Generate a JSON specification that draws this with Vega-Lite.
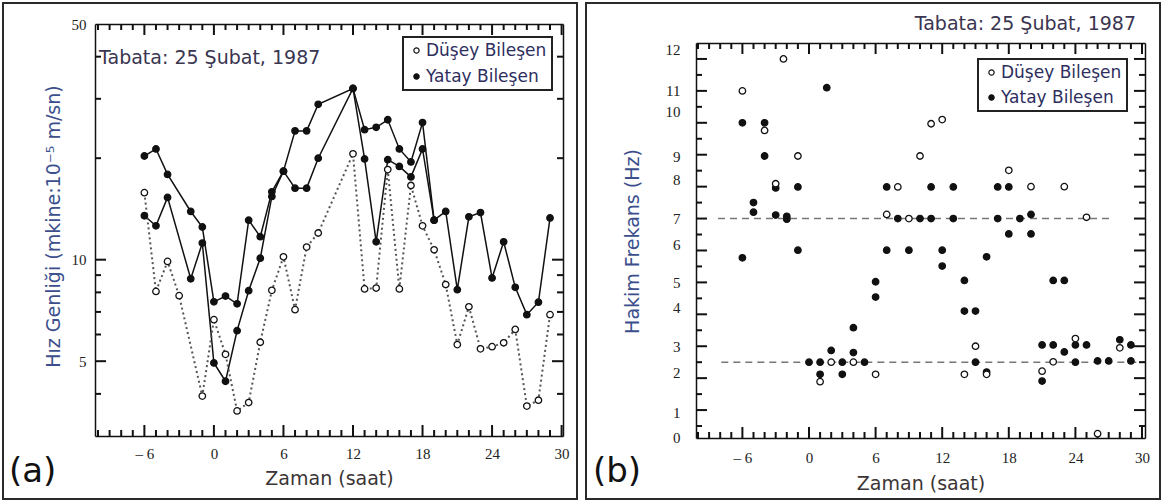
{
  "$schema": "https://vega.github.io/schema/vega-lite/v6.json",
  "background": "white",
  "padding": {"left": 2, "top": 2, "right": 0, "bottom": 0},
  "spacing": 7,
  "config": {
    "view": {"stroke": "#2a2a2a", "strokeWidth": 2},
    "axis": {"grid": false, "domainColor": "#111", "domainWidth": 1.5, "labelFont": "Liberation Serif", "labelFontSize": 15, "labelColor": "#222", "labelFlush": false, "labelOverlap": false, "titleFont": "DejaVu Sans", "titleFontSize": 19, "titleFontWeight": "normal"},
    "legend": {"strokeWidth": 2}
  },
  "resolve": {"scale": {"fill": "independent"}, "legend": {"fill": "independent"}},
  "datasets": {
    "a": [
      {"s": "D", "h": -6, "v": 15.8}, {"s": "D", "h": -5, "v": 8.05}, {"s": "D", "h": -4, "v": 9.88}, {"s": "D", "h": -3, "v": 7.82},
      {"s": "D", "h": -1, "v": 3.94}, {"s": "D", "h": 0, "v": 6.64}, {"s": "D", "h": 1, "v": 5.24}, {"s": "D", "h": 2, "v": 3.56},
      {"s": "D", "h": 3, "v": 3.77}, {"s": "D", "h": 4, "v": 5.69}, {"s": "D", "h": 5, "v": 8.11}, {"s": "D", "h": 6, "v": 10.2},
      {"s": "D", "h": 7, "v": 7.11}, {"s": "D", "h": 8, "v": 10.9}, {"s": "D", "h": 9, "v": 12.0}, {"s": "D", "h": 12, "v": 20.6},
      {"s": "D", "h": 13, "v": 8.19}, {"s": "D", "h": 14, "v": 8.24}, {"s": "D", "h": 15, "v": 18.5}, {"s": "D", "h": 16, "v": 8.19},
      {"s": "D", "h": 17, "v": 16.6}, {"s": "D", "h": 18, "v": 12.6}, {"s": "D", "h": 19, "v": 10.7}, {"s": "D", "h": 20, "v": 8.44},
      {"s": "D", "h": 21, "v": 5.6}, {"s": "D", "h": 22, "v": 7.25}, {"s": "D", "h": 23, "v": 5.44}, {"s": "D", "h": 24, "v": 5.52},
      {"s": "D", "h": 25, "v": 5.67}, {"s": "D", "h": 26, "v": 6.21}, {"s": "D", "h": 27, "v": 3.68}, {"s": "D", "h": 28, "v": 3.83},
      {"s": "D", "h": 29, "v": 6.87},
      {"s": "Y1", "h": -6, "v": 20.3}, {"s": "Y1", "h": -5, "v": 21.3}, {"s": "Y1", "h": -4, "v": 17.9}, {"s": "Y1", "h": -2, "v": 13.9},
      {"s": "Y1", "h": -1, "v": 12.5}, {"s": "Y1", "h": 0, "v": 7.5}, {"s": "Y1", "h": 1, "v": 7.8}, {"s": "Y1", "h": 2, "v": 7.4},
      {"s": "Y1", "h": 3, "v": 13.1}, {"s": "Y1", "h": 4, "v": 11.7}, {"s": "Y1", "h": 5, "v": 15.9}, {"s": "Y1", "h": 6, "v": 18.3},
      {"s": "Y1", "h": 7, "v": 24.1}, {"s": "Y1", "h": 8, "v": 24.1}, {"s": "Y1", "h": 9, "v": 28.9}, {"s": "Y1", "h": 12, "v": 32.2},
      {"s": "Y1", "h": 13, "v": 24.3}, {"s": "Y1", "h": 14, "v": 24.7}, {"s": "Y1", "h": 15, "v": 26.0}, {"s": "Y1", "h": 16, "v": 21.3},
      {"s": "Y1", "h": 17, "v": 19.5}, {"s": "Y1", "h": 18, "v": 25.5}, {"s": "Y1", "h": 19, "v": 13.1}, {"s": "Y1", "h": 20, "v": 13.9},
      {"s": "Y1", "h": 21, "v": 8.15}, {"s": "Y1", "h": 22, "v": 13.4}, {"s": "Y1", "h": 23, "v": 13.8}, {"s": "Y1", "h": 24, "v": 8.83},
      {"s": "Y1", "h": 25, "v": 11.3}, {"s": "Y1", "h": 26, "v": 8.28}, {"s": "Y1", "h": 27, "v": 6.87}, {"s": "Y1", "h": 28, "v": 7.48},
      {"s": "Y1", "h": 29, "v": 13.3},
      {"s": "Y2", "h": -6, "v": 13.5}, {"s": "Y2", "h": -5, "v": 12.6}, {"s": "Y2", "h": -4, "v": 15.3}, {"s": "Y2", "h": -2, "v": 8.78},
      {"s": "Y2", "h": -1, "v": 11.2}, {"s": "Y2", "h": 0, "v": 4.94}, {"s": "Y2", "h": 1, "v": 4.36}, {"s": "Y2", "h": 2, "v": 6.16},
      {"s": "Y2", "h": 3, "v": 8.09}, {"s": "Y2", "h": 4, "v": 10.1}, {"s": "Y2", "h": 5, "v": 15.4}, {"s": "Y2", "h": 6, "v": 18.3},
      {"s": "Y2", "h": 7, "v": 16.3}, {"s": "Y2", "h": 8, "v": 16.3}, {"s": "Y2", "h": 9, "v": 20.0}, {"s": "Y2", "h": 12, "v": 32.2},
      {"s": "Y2", "h": 13, "v": 19.9}, {"s": "Y2", "h": 14, "v": 11.3}, {"s": "Y2", "h": 15, "v": 19.8}, {"s": "Y2", "h": 16, "v": 18.9},
      {"s": "Y2", "h": 17, "v": 17.6}, {"s": "Y2", "h": 18, "v": 21.3}, {"s": "Y2", "h": 19, "v": 13.1}
    ],
    "b": [
      {"t": "Y", "h": -6, "f": 10.0}, {"t": "Y", "h": -6, "f": 5.77}, {"t": "Y", "h": -5, "f": 7.5}, {"t": "Y", "h": -5, "f": 7.2},
      {"t": "Y", "h": -4, "f": 10.0}, {"t": "Y", "h": -4, "f": 8.96}, {"t": "Y", "h": -3, "f": 7.96}, {"t": "Y", "h": -3, "f": 7.11},
      {"t": "Y", "h": -2, "f": 7.07}, {"t": "Y", "h": -2, "f": 6.98}, {"t": "Y", "h": -1, "f": 7.99}, {"t": "Y", "h": -1, "f": 6.01},
      {"t": "Y", "h": 0, "f": 2.5}, {"t": "Y", "h": 1, "f": 2.5}, {"t": "Y", "h": 1, "f": 2.12}, {"t": "Y", "h": 1.6, "f": 11.1},
      {"t": "Y", "h": 2, "f": 2.87}, {"t": "Y", "h": 3, "f": 2.5}, {"t": "Y", "h": 3, "f": 2.12}, {"t": "Y", "h": 4, "f": 3.58},
      {"t": "Y", "h": 4, "f": 2.8}, {"t": "Y", "h": 5, "f": 2.5}, {"t": "Y", "h": 6, "f": 5.02}, {"t": "Y", "h": 6, "f": 4.54},
      {"t": "Y", "h": 7, "f": 7.99}, {"t": "Y", "h": 7, "f": 6.01}, {"t": "Y", "h": 8, "f": 7.0}, {"t": "Y", "h": 9, "f": 6.01},
      {"t": "Y", "h": 10, "f": 7.0}, {"t": "Y", "h": 11, "f": 7.99}, {"t": "Y", "h": 11, "f": 7.0}, {"t": "Y", "h": 12, "f": 6.01},
      {"t": "Y", "h": 12, "f": 5.51}, {"t": "Y", "h": 13, "f": 7.99}, {"t": "Y", "h": 13, "f": 7.0}, {"t": "Y", "h": 14, "f": 5.06},
      {"t": "Y", "h": 14, "f": 4.1}, {"t": "Y", "h": 15, "f": 4.1}, {"t": "Y", "h": 15, "f": 2.5}, {"t": "Y", "h": 16, "f": 5.8},
      {"t": "Y", "h": 16, "f": 2.19}, {"t": "Y", "h": 17, "f": 7.99}, {"t": "Y", "h": 17, "f": 7.0}, {"t": "Y", "h": 18, "f": 7.99},
      {"t": "Y", "h": 18, "f": 6.52}, {"t": "Y", "h": 19, "f": 7.0}, {"t": "Y", "h": 20, "f": 7.13}, {"t": "Y", "h": 20, "f": 6.52},
      {"t": "Y", "h": 21, "f": 3.04}, {"t": "Y", "h": 21, "f": 1.91}, {"t": "Y", "h": 22, "f": 5.06}, {"t": "Y", "h": 22, "f": 3.04},
      {"t": "Y", "h": 23, "f": 5.06}, {"t": "Y", "h": 23, "f": 2.82}, {"t": "Y", "h": 24, "f": 3.04}, {"t": "Y", "h": 24, "f": 2.5},
      {"t": "Y", "h": 25, "f": 3.04}, {"t": "Y", "h": 26, "f": 2.54}, {"t": "Y", "h": 27, "f": 2.54}, {"t": "Y", "h": 28, "f": 3.2},
      {"t": "Y", "h": 29, "f": 3.04}, {"t": "Y", "h": 29, "f": 2.54},
      {"t": "D", "h": -6, "f": 11.0}, {"t": "D", "h": -4, "f": 9.76}, {"t": "D", "h": -3, "f": 8.09}, {"t": "D", "h": -2.3, "f": 12.0},
      {"t": "D", "h": -1, "f": 8.96}, {"t": "D", "h": 1, "f": 1.89}, {"t": "D", "h": 2, "f": 2.5}, {"t": "D", "h": 4, "f": 2.5},
      {"t": "D", "h": 6, "f": 2.12}, {"t": "D", "h": 7, "f": 7.13}, {"t": "D", "h": 8, "f": 7.99}, {"t": "D", "h": 9, "f": 7.0},
      {"t": "D", "h": 10, "f": 8.96}, {"t": "D", "h": 11, "f": 9.97}, {"t": "D", "h": 12, "f": 10.1}, {"t": "D", "h": 14, "f": 2.12},
      {"t": "D", "h": 15, "f": 3.0}, {"t": "D", "h": 16, "f": 2.12}, {"t": "D", "h": 18, "f": 8.51}, {"t": "D", "h": 20, "f": 8.0},
      {"t": "D", "h": 21, "f": 2.22}, {"t": "D", "h": 22, "f": 2.51}, {"t": "D", "h": 23, "f": 8.0}, {"t": "D", "h": 24, "f": 3.24},
      {"t": "D", "h": 25, "f": 7.04}, {"t": "D", "h": 26, "f": 0.26}, {"t": "D", "h": 28, "f": 2.95}
    ],
    "bref": [
      {"k": "u", "x1": -8.2, "x2": 27.3, "y": 7},
      {"k": "l", "x1": -7.9, "x2": 30.2, "y": 2.5}
    ],
    "xt": [
      {"v": -10, "m": 0}, {"v": -9, "m": 0}, {"v": -8, "m": 0}, {"v": -7, "m": 0}, {"v": -6, "m": 1}, {"v": -5, "m": 0}, {"v": -4, "m": 0},
      {"v": -3, "m": 0}, {"v": -2, "m": 0}, {"v": -1, "m": 0}, {"v": 0, "m": 1}, {"v": 1, "m": 0}, {"v": 2, "m": 0}, {"v": 3, "m": 0},
      {"v": 4, "m": 0}, {"v": 5, "m": 0}, {"v": 6, "m": 1}, {"v": 7, "m": 0}, {"v": 8, "m": 0}, {"v": 9, "m": 0}, {"v": 10, "m": 0},
      {"v": 11, "m": 0}, {"v": 12, "m": 1}, {"v": 13, "m": 0}, {"v": 14, "m": 0}, {"v": 15, "m": 0}, {"v": 16, "m": 0}, {"v": 17, "m": 0},
      {"v": 18, "m": 1}, {"v": 19, "m": 0}, {"v": 20, "m": 0}, {"v": 21, "m": 0}, {"v": 22, "m": 0}, {"v": 23, "m": 0}, {"v": 24, "m": 1},
      {"v": 25, "m": 0}, {"v": 26, "m": 0}, {"v": 27, "m": 0}, {"v": 28, "m": 0}, {"v": 29, "m": 0}, {"v": 30, "m": 1}
    ],
    "yta": [
      {"v": 4, "m": 0}, {"v": 5, "m": 1}, {"v": 6, "m": 0}, {"v": 7, "m": 0}, {"v": 8, "m": 0}, {"v": 9, "m": 0}, {"v": 10, "m": 1},
      {"v": 20, "m": 0}, {"v": 30, "m": 0}, {"v": 40, "m": 0}
    ],
    "ytb": [
      {"v": 0.5, "m": 0}, {"v": 1, "m": 1}, {"v": 1.5, "m": 0}, {"v": 2, "m": 1}, {"v": 2.5, "m": 0}, {"v": 3, "m": 1}, {"v": 3.5, "m": 0},
      {"v": 4, "m": 1}, {"v": 4.5, "m": 0}, {"v": 5, "m": 1}, {"v": 5.5, "m": 0}, {"v": 6, "m": 1}, {"v": 6.5, "m": 0}, {"v": 7, "m": 1},
      {"v": 7.5, "m": 0}, {"v": 8, "m": 1}, {"v": 8.5, "m": 0}, {"v": 9, "m": 1}, {"v": 9.5, "m": 0}, {"v": 10, "m": 1}, {"v": 10.5, "m": 0},
      {"v": 11, "m": 1}, {"v": 11.5, "m": 0}, {"v": 12, "m": 1}
    ]
  },
  "hconcat": [
    {
      "width": 574,
      "height": 496,
      "resolve": {"axis": {"x": "independent", "y": "independent"}},
      "layer": [
        {
          "data": {"name": "a"},
          "transform": [{"filter": "datum.s !== 'D'"}],
          "mark": {"type": "line", "color": "#111", "strokeWidth": 1.5},
          "encoding": {
            "x": {"field": "h", "type": "quantitative",
              "scale": {"domain": [-10.26, 30.12], "range": [92, 560], "nice": false, "zero": false},
              "axis": {"orient": "bottom", "offset": -63, "values": [-6, 0, 6, 12, 18, 24, 30], "ticks": false,
                "labelExpr": "datum.value < 0 ? '– ' + abs(datum.value) : '' + datum.value",
                "labelPadding": 10,
                "title": "Zaman (saat)", "titleColor": "#3b3535", "titleY": 42, "titleBaseline": "middle"}},
            "y": {"field": "v", "type": "quantitative",
              "scale": {"type": "log", "domain": [3, 50], "range": [433, 21], "nice": false},
              "axis": {"orient": "left", "offset": -92, "values": [5, 10, 50], "ticks": false,
                "labelExpr": "'' + datum.value", "labelPadding": 9,
                "title": "Hız Genliği (mkine:10⁻⁵ m/sn)", "titleColor": "#3c4f8c", "titleX": -42, "titleY": 223, "titleBaseline": "middle"}},
            "detail": {"field": "s"}
          }
        },
        {
          "data": {"name": "a"},
          "transform": [{"filter": "datum.s === 'D'"}],
          "mark": {"type": "line", "color": "#555", "strokeWidth": 2, "strokeDash": [2, 3]},
          "encoding": {
            "x": {"field": "h", "type": "quantitative",
              "scale": {"domain": [-10.26, 30.12], "range": [92, 560], "nice": false, "zero": false},
              "axis": {"orient": "bottom", "offset": -475, "ticks": false, "labels": false, "domain": true, "title": null}},
            "y": {"field": "v", "type": "quantitative",
              "scale": {"type": "log", "domain": [3, 50], "range": [433, 21], "nice": false},
              "axis": {"orient": "left", "offset": -560, "ticks": false, "labels": false, "domain": true, "title": null}}
          }
        },
        {
          "data": {"name": "xt"},
          "transform": [{"filter": "datum.m === 1"}],
          "mark": {"type": "rule", "color": "#111", "strokeWidth": 2},
          "encoding": {
            "x": {"field": "v", "type": "quantitative", "scale": {"domain": [-10.26, 30.12], "range": [92, 560], "nice": false, "zero": false}, "axis": null},
            "y": {"datum": 3, "type": "quantitative", "scale": {"type": "log", "domain": [3, 50], "range": [433, 21], "nice": false}, "axis": null},
            "y2": {"datum": 3.234}
          }
        },
        {
          "data": {"name": "xt"},
          "transform": [{"filter": "datum.m === 0"}],
          "mark": {"type": "rule", "color": "#111", "strokeWidth": 2},
          "encoding": {
            "x": {"field": "v", "type": "quantitative", "scale": {"domain": [-10.26, 30.12], "range": [92, 560], "nice": false, "zero": false}, "axis": null},
            "y": {"datum": 3, "type": "quantitative", "scale": {"type": "log", "domain": [3, 50], "range": [433, 21], "nice": false}, "axis": null},
            "y2": {"datum": 3.125}
          }
        },
        {
          "data": {"name": "xt"},
          "transform": [{"filter": "datum.m === 1"}],
          "mark": {"type": "rule", "color": "#111", "strokeWidth": 2},
          "encoding": {
            "x": {"field": "v", "type": "quantitative", "scale": {"domain": [-10.26, 30.12], "range": [92, 560], "nice": false, "zero": false}, "axis": null},
            "y": {"datum": 50, "type": "quantitative", "scale": {"type": "log", "domain": [3, 50], "range": [433, 21], "nice": false}, "axis": null},
            "y2": {"datum": 46.38}
          }
        },
        {
          "data": {"name": "xt"},
          "transform": [{"filter": "datum.m === 0"}],
          "mark": {"type": "rule", "color": "#111", "strokeWidth": 2},
          "encoding": {
            "x": {"field": "v", "type": "quantitative", "scale": {"domain": [-10.26, 30.12], "range": [92, 560], "nice": false, "zero": false}, "axis": null},
            "y": {"datum": 50, "type": "quantitative", "scale": {"type": "log", "domain": [3, 50], "range": [433, 21], "nice": false}, "axis": null},
            "y2": {"datum": 47.99}
          }
        },
        {
          "data": {"name": "yta"},
          "transform": [{"filter": "datum.m === 1"}],
          "mark": {"type": "rule", "color": "#111", "strokeWidth": 2},
          "encoding": {
            "x": {"datum": -10.26, "type": "quantitative", "scale": {"domain": [-10.26, 30.12], "range": [92, 560], "nice": false, "zero": false}, "axis": null},
            "x2": {"datum": -9.311},
            "y": {"field": "v", "type": "quantitative", "scale": {"type": "log", "domain": [3, 50], "range": [433, 21], "nice": false}, "axis": null}
          }
        },
        {
          "data": {"name": "yta"},
          "transform": [{"filter": "datum.m === 0"}],
          "mark": {"type": "rule", "color": "#111", "strokeWidth": 2},
          "encoding": {
            "x": {"datum": -10.26, "type": "quantitative", "scale": {"domain": [-10.26, 30.12], "range": [92, 560], "nice": false, "zero": false}, "axis": null},
            "x2": {"datum": -9.742},
            "y": {"field": "v", "type": "quantitative", "scale": {"type": "log", "domain": [3, 50], "range": [433, 21], "nice": false}, "axis": null}
          }
        },
        {
          "data": {"name": "yta"},
          "transform": [{"filter": "datum.m === 1"}],
          "mark": {"type": "rule", "color": "#111", "strokeWidth": 2},
          "encoding": {
            "x": {"datum": 30.12, "type": "quantitative", "scale": {"domain": [-10.26, 30.12], "range": [92, 560], "nice": false, "zero": false}, "axis": null},
            "x2": {"datum": 29.171},
            "y": {"field": "v", "type": "quantitative", "scale": {"type": "log", "domain": [3, 50], "range": [433, 21], "nice": false}, "axis": null}
          }
        },
        {
          "data": {"name": "yta"},
          "transform": [{"filter": "datum.m === 0"}],
          "mark": {"type": "rule", "color": "#111", "strokeWidth": 2},
          "encoding": {
            "x": {"datum": 30.12, "type": "quantitative", "scale": {"domain": [-10.26, 30.12], "range": [92, 560], "nice": false, "zero": false}, "axis": null},
            "x2": {"datum": 29.602},
            "y": {"field": "v", "type": "quantitative", "scale": {"type": "log", "domain": [3, 50], "range": [433, 21], "nice": false}, "axis": null}
          }
        },
        {
          "data": {"name": "a"},
          "transform": [{"filter": "datum.s !== 'D'"}],
          "mark": {"type": "circle", "stroke": "#111", "strokeWidth": 1.3, "size": 42, "opacity": 1},
          "encoding": {
            "x": {"field": "h", "type": "quantitative", "scale": {"domain": [-10.26, 30.12], "range": [92, 560], "nice": false, "zero": false}, "axis": null},
            "y": {"field": "v", "type": "quantitative", "scale": {"type": "log", "domain": [3, 50], "range": [433, 21], "nice": false}, "axis": null},
            "fill": {"field": "s", "type": "nominal",
              "scale": {"domain": ["D", "Y1", "Y2"], "range": ["white", "#111", "#111"]},
              "legend": {"orient": "none", "legendX": 400, "legendY": 34, "title": null, "values": ["D", "Y1"],
                "labelExpr": "datum.value == 'D' ? 'Düşey Bileşen' : 'Yatay Bileşen'",
                "padding": 5, "strokeColor": "#222", "fillColor": "white", "labelFont": "DejaVu Sans", "labelFontSize": 17, "labelColor": "#2e2e5e",
                "symbolType": "circle", "symbolSize": 28, "symbolStrokeColor": "#111", "symbolStrokeWidth": 1.2, "rowPadding": 8, "labelOffset": 1, "labelLimit": 400}}
          }
        },
        {
          "data": {"name": "a"},
          "transform": [{"filter": "datum.s === 'D'"}],
          "mark": {"type": "circle", "stroke": "#111", "strokeWidth": 1.3, "size": 42, "opacity": 1},
          "encoding": {
            "x": {"field": "h", "type": "quantitative", "scale": {"domain": [-10.26, 30.12], "range": [92, 560], "nice": false, "zero": false}, "axis": null},
            "y": {"field": "v", "type": "quantitative", "scale": {"type": "log", "domain": [3, 50], "range": [433, 21], "nice": false}, "axis": null},
            "fill": {"field": "s", "type": "nominal",
              "scale": {"domain": ["D", "Y1", "Y2"], "range": ["white", "#111", "#111"]},
              "legend": {"orient": "none", "legendX": 400, "legendY": 34, "title": null, "values": ["D", "Y1"],
                "labelExpr": "datum.value == 'D' ? 'Düşey Bileşen' : 'Yatay Bileşen'",
                "padding": 5, "strokeColor": "#222", "fillColor": "white", "labelFont": "DejaVu Sans", "labelFontSize": 17, "labelColor": "#2e2e5e",
                "symbolType": "circle", "symbolSize": 28, "symbolStrokeColor": "#111", "symbolStrokeWidth": 1.2, "rowPadding": 8, "labelOffset": 1, "labelLimit": 400}}
          }
        },
        {
          "data": {"values": [{}]},
          "mark": {"type": "text", "text": "Tabata: 25 Şubat, 1987", "font": "DejaVu Sans", "fontSize": 19, "color": "#3a3550", "align": "left", "baseline": "middle"},
          "encoding": {
            "x": {"datum": -9.91, "type": "quantitative", "scale": {"domain": [-10.26, 30.12], "range": [92, 560], "nice": false, "zero": false}, "axis": null},
            "y": {"datum": 39.6, "type": "quantitative", "scale": {"type": "log", "domain": [3, 50], "range": [433, 21], "nice": false}, "axis": null}
          }
        },
        {
          "data": {"values": [{}]},
          "mark": {"type": "text", "text": "(a)", "font": "DejaVu Sans", "fontSize": 34, "color": "#111", "align": "left", "baseline": "middle"},
          "encoding": {
            "x": {"datum": -17.68, "type": "quantitative", "scale": {"domain": [-10.26, 30.12], "range": [92, 560], "nice": false, "zero": false}, "axis": null},
            "y": {"datum": 2.346, "type": "quantitative", "scale": {"type": "log", "domain": [3, 50], "range": [433, 21], "nice": false}, "axis": null}
          }
        }
      ]
    },
    {
      "width": 574,
      "height": 496,
      "resolve": {"axis": {"x": "independent", "y": "independent"}},
      "layer": [
        {
          "data": {"name": "bref"},
          "mark": {"type": "rule", "color": "#777", "strokeWidth": 1.5, "strokeDash": [7, 5]},
          "encoding": {
            "x": {"field": "x1", "type": "quantitative",
              "scale": {"domain": [-10.18, 30.27], "range": [110, 559], "nice": false, "zero": false},
              "axis": {"orient": "bottom", "offset": -61, "values": [-6, 0, 6, 12, 18, 24, 30], "ticks": false,
                "labelExpr": "datum.value < 0 ? '– ' + abs(datum.value) : '' + datum.value",
                "labelPadding": 12,
                "title": "Zaman (saat)", "titleColor": "#3b3535", "titleY": 45, "titleBaseline": "middle"}},
            "x2": {"field": "x2"},
            "y": {"field": "y", "type": "quantitative",
              "scale": {"domain": [0.125, 12.5], "range": [435, 40], "nice": false, "zero": false},
              "axis": {"orient": "left", "offset": -110,
                "values": [0.13, 0.92, 2.17, 3, 4.22, 5, 6.2, 7, 8.22, 8.95, 10.36, 11, 12.3],
                "labelExpr": "'' + round(datum.value)",
                "ticks": false, "labelPadding": 16,
                "title": "Hakim Frekans (Hz)", "titleColor": "#3c4f8c", "titleX": -64, "titleY": 238, "titleBaseline": "middle"}}
          }
        },
        {
          "data": {"name": "xt"},
          "transform": [{"filter": "datum.m === 1"}],
          "mark": {"type": "rule", "color": "#111", "strokeWidth": 2},
          "encoding": {
            "x": {"field": "v", "type": "quantitative", "scale": {"domain": [-10.18, 30.27], "range": [110, 559], "nice": false, "zero": false},
              "axis": {"orient": "bottom", "offset": -456, "ticks": false, "labels": false, "domain": true, "title": null}},
            "y": {"datum": 0.125, "type": "quantitative", "scale": {"domain": [0.125, 12.5], "range": [435, 40], "nice": false, "zero": false},
              "axis": {"orient": "left", "offset": -559, "ticks": false, "labels": false, "domain": true, "title": null}},
            "y2": {"datum": 0.47}
          }
        },
        {
          "data": {"name": "xt"},
          "transform": [{"filter": "datum.m === 0"}],
          "mark": {"type": "rule", "color": "#111", "strokeWidth": 2},
          "encoding": {
            "x": {"field": "v", "type": "quantitative", "scale": {"domain": [-10.18, 30.27], "range": [110, 559], "nice": false, "zero": false}, "axis": null},
            "y": {"datum": 0.125, "type": "quantitative", "scale": {"domain": [0.125, 12.5], "range": [435, 40], "nice": false, "zero": false}, "axis": null},
            "y2": {"datum": 0.313}
          }
        },
        {
          "data": {"name": "xt"},
          "transform": [{"filter": "datum.m === 1"}],
          "mark": {"type": "rule", "color": "#111", "strokeWidth": 2},
          "encoding": {
            "x": {"field": "v", "type": "quantitative", "scale": {"domain": [-10.18, 30.27], "range": [110, 559], "nice": false, "zero": false}, "axis": null},
            "y": {"datum": 12.5, "type": "quantitative", "scale": {"domain": [0.125, 12.5], "range": [435, 40], "nice": false, "zero": false}, "axis": null},
            "y2": {"datum": 12.155}
          }
        },
        {
          "data": {"name": "xt"},
          "transform": [{"filter": "datum.m === 0"}],
          "mark": {"type": "rule", "color": "#111", "strokeWidth": 2},
          "encoding": {
            "x": {"field": "v", "type": "quantitative", "scale": {"domain": [-10.18, 30.27], "range": [110, 559], "nice": false, "zero": false}, "axis": null},
            "y": {"datum": 12.5, "type": "quantitative", "scale": {"domain": [0.125, 12.5], "range": [435, 40], "nice": false, "zero": false}, "axis": null},
            "y2": {"datum": 12.312}
          }
        },
        {
          "data": {"name": "ytb"},
          "transform": [{"filter": "datum.m === 1"}],
          "mark": {"type": "rule", "color": "#111", "strokeWidth": 2},
          "encoding": {
            "x": {"datum": -10.18, "type": "quantitative", "scale": {"domain": [-10.18, 30.27], "range": [110, 559], "nice": false, "zero": false}, "axis": null},
            "x2": {"datum": -9.189},
            "y": {"field": "v", "type": "quantitative", "scale": {"domain": [0.125, 12.5], "range": [435, 40], "nice": false, "zero": false}, "axis": null}
          }
        },
        {
          "data": {"name": "ytb"},
          "transform": [{"filter": "datum.m === 0"}],
          "mark": {"type": "rule", "color": "#111", "strokeWidth": 2},
          "encoding": {
            "x": {"datum": -10.18, "type": "quantitative", "scale": {"domain": [-10.18, 30.27], "range": [110, 559], "nice": false, "zero": false}, "axis": null},
            "x2": {"datum": -9.639},
            "y": {"field": "v", "type": "quantitative", "scale": {"domain": [0.125, 12.5], "range": [435, 40], "nice": false, "zero": false}, "axis": null}
          }
        },
        {
          "data": {"name": "ytb"},
          "transform": [{"filter": "datum.m === 1"}],
          "mark": {"type": "rule", "color": "#111", "strokeWidth": 2},
          "encoding": {
            "x": {"datum": 30.27, "type": "quantitative", "scale": {"domain": [-10.18, 30.27], "range": [110, 559], "nice": false, "zero": false}, "axis": null},
            "x2": {"datum": 29.279},
            "y": {"field": "v", "type": "quantitative", "scale": {"domain": [0.125, 12.5], "range": [435, 40], "nice": false, "zero": false}, "axis": null}
          }
        },
        {
          "data": {"name": "ytb"},
          "transform": [{"filter": "datum.m === 0"}],
          "mark": {"type": "rule", "color": "#111", "strokeWidth": 2},
          "encoding": {
            "x": {"datum": 30.27, "type": "quantitative", "scale": {"domain": [-10.18, 30.27], "range": [110, 559], "nice": false, "zero": false}, "axis": null},
            "x2": {"datum": 29.729},
            "y": {"field": "v", "type": "quantitative", "scale": {"domain": [0.125, 12.5], "range": [435, 40], "nice": false, "zero": false}, "axis": null}
          }
        },
        {
          "data": {"name": "b"},
          "transform": [{"filter": "datum.t === 'Y'"}],
          "mark": {"type": "circle", "stroke": "#111", "strokeWidth": 1.3, "size": 42, "opacity": 1},
          "encoding": {
            "x": {"field": "h", "type": "quantitative", "scale": {"domain": [-10.18, 30.27], "range": [110, 559], "nice": false, "zero": false}, "axis": null},
            "y": {"field": "f", "type": "quantitative", "scale": {"domain": [0.125, 12.5], "range": [435, 40], "nice": false, "zero": false}, "axis": null},
            "fill": {"field": "t", "type": "nominal",
              "scale": {"domain": ["D", "Y"], "range": ["white", "#111"]},
              "legend": {"orient": "none", "legendX": 392, "legendY": 56, "title": null,
                "labelExpr": "datum.value == 'D' ? 'Düşey Bileşen' : 'Yatay Bileşen'",
                "padding": 5, "strokeColor": "#222", "fillColor": "white", "labelFont": "DejaVu Sans", "labelFontSize": 17, "labelColor": "#2e2e5e",
                "symbolType": "circle", "symbolSize": 28, "symbolStrokeColor": "#111", "symbolStrokeWidth": 1.2, "rowPadding": 7, "labelOffset": 1, "labelLimit": 400}}
          }
        },
        {
          "data": {"name": "b"},
          "transform": [{"filter": "datum.t === 'D'"}],
          "mark": {"type": "circle", "stroke": "#111", "strokeWidth": 1.3, "size": 42, "opacity": 1},
          "encoding": {
            "x": {"field": "h", "type": "quantitative", "scale": {"domain": [-10.18, 30.27], "range": [110, 559], "nice": false, "zero": false}, "axis": null},
            "y": {"field": "f", "type": "quantitative", "scale": {"domain": [0.125, 12.5], "range": [435, 40], "nice": false, "zero": false}, "axis": null},
            "fill": {"field": "t", "type": "nominal",
              "scale": {"domain": ["D", "Y"], "range": ["white", "#111"]},
              "legend": {"orient": "none", "legendX": 392, "legendY": 56, "title": null,
                "labelExpr": "datum.value == 'D' ? 'Düşey Bileşen' : 'Yatay Bileşen'",
                "padding": 5, "strokeColor": "#222", "fillColor": "white", "labelFont": "DejaVu Sans", "labelFontSize": 17, "labelColor": "#2e2e5e",
                "symbolType": "circle", "symbolSize": 28, "symbolStrokeColor": "#111", "symbolStrokeWidth": 1.2, "rowPadding": 7, "labelOffset": 1, "labelLimit": 400}}
          }
        },
        {
          "data": {"values": [{}]},
          "mark": {"type": "text", "text": "Tabata: 25 Şubat, 1987", "font": "DejaVu Sans", "fontSize": 19, "color": "#3a3550", "align": "right", "baseline": "middle"},
          "encoding": {
            "x": {"datum": 29.46, "type": "quantitative", "scale": {"domain": [-10.18, 30.27], "range": [110, 559], "nice": false, "zero": false}, "axis": null},
            "y": {"datum": 13.1, "type": "quantitative", "scale": {"domain": [0.125, 12.5], "range": [435, 40], "nice": false, "zero": false}, "axis": null}
          }
        },
        {
          "data": {"values": [{}]},
          "mark": {"type": "text", "text": "(b)", "font": "DejaVu Sans", "fontSize": 34, "color": "#111", "align": "left", "baseline": "middle"},
          "encoding": {
            "x": {"datum": -19.46, "type": "quantitative", "scale": {"domain": [-10.18, 30.27], "range": [110, 559], "nice": false, "zero": false}, "axis": null},
            "y": {"datum": -0.94, "type": "quantitative", "scale": {"domain": [0.125, 12.5], "range": [435, 40], "nice": false, "zero": false}, "axis": null}
          }
        }
      ]
    }
  ]
}
